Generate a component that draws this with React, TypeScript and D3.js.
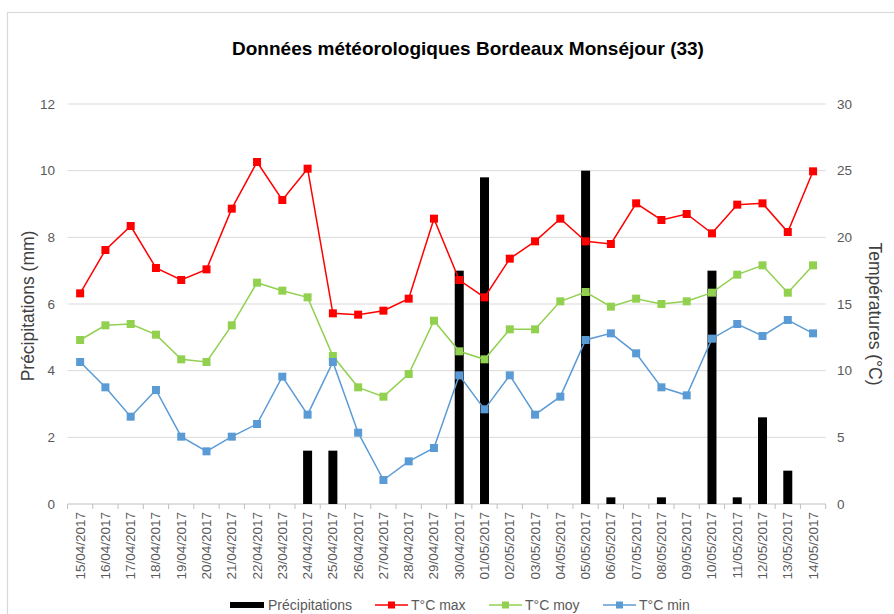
import React from 'react';
import * as d3 from 'd3';

const dates = [
  '15/04/2017', '16/04/2017', '17/04/2017', '18/04/2017', '19/04/2017', '20/04/2017',
  '21/04/2017', '22/04/2017', '23/04/2017', '24/04/2017', '25/04/2017', '26/04/2017',
  '27/04/2017', '28/04/2017', '29/04/2017', '30/04/2017', '01/05/2017', '02/05/2017',
  '03/05/2017', '04/05/2017', '05/05/2017', '06/05/2017', '07/05/2017', '08/05/2017',
  '09/05/2017', '10/05/2017', '11/05/2017', '12/05/2017', '13/05/2017', '14/05/2017',
];

// precipitation in mm (left axis)
const precip = [
  0, 0, 0, 0, 0, 0, 0, 0, 0, 1.6, 1.6, 0, 0, 0, 0, 7.0, 9.8, 0, 0, 0,
  10.0, 0.2, 0, 0.2, 0, 7.0, 0.2, 2.6, 1.0, 0,
];

// temperatures in °C (right axis)
const tMax = [
  15.8, 19.05, 20.85, 17.7, 16.8, 17.6, 22.15, 25.65, 22.8, 25.15, 14.3, 14.2,
  14.5, 15.4, 21.4, 16.8, 15.5, 18.4, 19.7, 21.4, 19.7, 19.5, 22.55, 21.3,
  21.75, 20.3, 22.45, 22.55, 20.4, 24.95,
];
const tMoy = [
  12.3, 13.4, 13.5, 12.7, 10.85, 10.65, 13.4, 16.6, 16.0, 15.5, 11.1, 8.75,
  8.05, 9.75, 13.75, 11.45, 10.85, 13.1, 13.1, 15.2, 15.9, 14.8, 15.4, 15.0,
  15.2, 15.85, 17.2, 17.9, 15.85, 17.9,
];
const tMin = [
  10.65, 8.75, 6.55, 8.55, 5.05, 3.95, 5.05, 6.0, 9.55, 6.7, 10.65, 5.35,
  1.8, 3.2, 4.2, 9.65, 7.1, 9.65, 6.7, 8.05, 12.3, 12.8, 11.3, 8.75,
  8.15, 12.4, 13.5, 12.6, 13.8, 12.8,
];

const leftTicks = [0, 2, 4, 6, 8, 10, 12];
const rightTicks = [0, 5, 10, 15, 20, 25, 30];

const W = 894;
const H = 614;
const font = 'Liberation Sans, Arial, sans-serif';

const series = [
  { name: 'T°C max', values: tMax, color: '#FF0000' },
  { name: 'T°C moy', values: tMoy, color: '#92D050' },
  { name: 'T°C min', values: tMin, color: '#5B9BD5' },
];

export default function App() {
  const left = 67.5, right = 825.7, top = 104, bottom = 504;

  const x = d3.scaleBand<string>().domain(dates).range([left, right]).paddingInner(0).paddingOuter(0);
  const yL = d3.scaleLinear().domain([0, 12]).range([bottom, top]);
  const yR = d3.scaleLinear().domain([0, 30]).range([bottom, top]);
  const cx = (d: string) => (x(d) as number) + x.bandwidth() / 2;
  const barW = 9;
  const mk = 8;

  const line = d3.line<number>()
    .x((_, i) => cx(dates[i]))
    .y(v => yR(v));

  const boundaries = d3.range(dates.length + 1).map(i => left + i * x.bandwidth());

  return (
    <svg width={W} height={H} style={{ position: 'absolute', left: 0, top: 0, background: '#fff' }} fontFamily={font}>
      {/* chart frame */}
      <rect x={7.5} y={12.5} width={W} height={H} fill="#fff" stroke="#D9D9D9" strokeWidth={1.2} />

      <text x={468} y={55} textAnchor="middle" fontSize={19} fontWeight="bold" fill="#000">
        Données météorologiques Bordeaux Monséjour (33)
      </text>

      {/* gridlines */}
      {leftTicks.slice(1).map(t => (
        <line key={t} x1={left} x2={right} y1={yL(t)} y2={yL(t)} stroke="#D9D9D9" strokeWidth={1} />
      ))}

      {/* x axis */}
      <line x1={left} x2={right} y1={bottom} y2={bottom} stroke="#BFBFBF" strokeWidth={1} />
      {boundaries.map((b, i) => (
        <line key={i} x1={b} x2={b} y1={bottom} y2={bottom + 5} stroke="#BFBFBF" strokeWidth={1} />
      ))}

      {/* left axis labels */}
      {leftTicks.map(t => (
        <text key={t} x={55} y={yL(t)} textAnchor="end" dominantBaseline="central" fontSize={13.5} fill="#595959">{t}</text>
      ))}
      {/* right axis labels */}
      {rightTicks.map(t => (
        <text key={t} x={837} y={yR(t)} textAnchor="start" dominantBaseline="central" fontSize={13.5} fill="#595959">{t}</text>
      ))}

      {/* axis titles */}
      <text transform="translate(28,306) rotate(-90)" textAnchor="middle" dominantBaseline="central" fontSize={17.5} fill="#404040">
        Précipitations (mm)
      </text>
      <text transform="translate(875,314) rotate(90)" textAnchor="middle" dominantBaseline="central" fontSize={17.5} fill="#404040">
        Températures (°C)
      </text>

      {/* x labels */}
      {dates.map(d => (
        <text key={d} transform={`translate(${cx(d)},${bottom + 8}) rotate(-90)`} textAnchor="end" dominantBaseline="central" fontSize={13.5} fill="#595959">{d}</text>
      ))}

      {/* precipitation bars */}
      {precip.map((v, i) => v > 0 && (
        <rect key={i} x={cx(dates[i]) - barW / 2} y={yL(v)} width={barW} height={bottom - yL(v)} fill="#000" />
      ))}

      {/* temperature lines */}
      {series.map(s => (
        <g key={s.name}>
          <path d={line(s.values) as string} fill="none" stroke={s.color} strokeWidth={1.5} />
          {s.values.map((v, i) => (
            <rect key={i} x={cx(dates[i]) - mk / 2} y={yR(v) - mk / 2} width={mk} height={mk} fill={s.color} />
          ))}
        </g>
      ))}

      {/* legend */}
      <g fontSize={14} fill="#595959">
        <rect x={230} y={602} width={34} height={6} fill="#000" />
        <text x={268} y={605} dominantBaseline="central">Précipitations</text>
        {series.map((s, i) => {
          const lx = [375, 489, 603][i];
          return (
            <g key={s.name}>
              <line x1={lx} x2={lx + 33} y1={605} y2={605} stroke={s.color} strokeWidth={1.5} />
              <rect x={lx + 16.5 - 3.5} y={605 - 3.5} width={7} height={7} fill={s.color} />
              <text x={lx + 36} y={605} dominantBaseline="central">{s.name}</text>
            </g>
          );
        })}
      </g>
    </svg>
  );
}
